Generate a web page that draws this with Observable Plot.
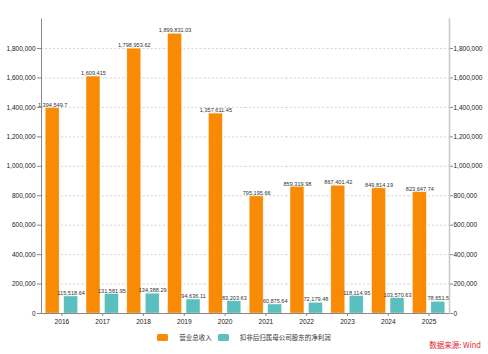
<!DOCTYPE html>
<html><head><meta charset="utf-8">
<script src="https://cdn.jsdelivr.net/npm/d3@7"></script>
<script src="https://cdn.jsdelivr.net/npm/@observablehq/plot@0.6"></script>
<style>
body{margin:0;background:#fff;font-family:"Liberation Sans","Noto Sans CJK SC",sans-serif;}
#wrap{position:relative;width:488px;height:354px;overflow:hidden;}
#chart svg{display:block;}
#legend{position:absolute;left:0;top:332px;width:488px;display:flex;justify-content:center;align-items:center;font-size:6.5px;color:#333;font-family:"Noto Sans CJK SC","Liberation Sans",sans-serif;}
#legend .item{display:flex;align-items:center;margin:0 3px;}
#legend .sw{width:11px;height:7px;border-radius:1.5px;margin-right:11px;}
#source{position:absolute;right:7px;top:339px;font-size:7.5px;color:#e0242b;font-family:"Noto Sans CJK SC","Liberation Sans",sans-serif;}
</style>
</head><body>
<div id="wrap"><div id="chart"></div><div id="legend"></div><div id="source"></div></div>
<script>
const years = ["2016","2017","2018","2019","2020","2021","2022","2023","2024","2025"];
const revenue = [1394549.7, 1609415, 1798953.62, 1899831.03, 1357611.45, 795195.66, 859319.98, 867401.42, 849814.19, 823647.74];
const netProfit = [115518.64, 131581.95, 134388.29, 94636.11, 83203.63, 60875.64, 72179.48, 118114.95, 103570.63, 78651.5];
const seriesNames = ["营业总收入", "扣非后归属母公司股东的净利润"];
const colors = ["#f88a04", "#5cbfbf"];
const yTicks = [0, 200000, 400000, 600000, 800000, 1000000, 1200000, 1400000, 1600000, 1800000];
const sourceText = "数据来源: Wind";

const seriesValues = [revenue, netProfit];
const data = years.flatMap((year, i) => seriesNames.map((s, j) => ({year, series: s, value: seriesValues[j][i]})));
const fmt = d3.format(",");
const font = '"Liberation Sans","Noto Sans CJK SC",sans-serif';

const chart = Plot.plot({
  width: 488, height: 330,
  marginLeft: 41, marginRight: 39, marginTop: 18.6, marginBottom: 17,
  style: {fontFamily: font, fontSize: "6.5px", color: "#333", background: "transparent"},
  fx: {domain: years, padding: 0, round: false, label: null},
  x: {domain: seriesNames, paddingInner: 0.25, paddingOuter: 0.23, round: false, axis: null},
  y: {domain: [0, 2000000], label: null},
  color: {domain: seriesNames, range: colors},
  marks: [
    Plot.gridY(yTicks, {stroke: "#d4d4d4", strokeOpacity: 1, strokeDasharray: "2,2"}),
    Plot.barY(data, {fx: "year", x: "series", y: "value", fill: "series", stroke: "#fff", strokeWidth: 0.6, strokeOpacity: 0.55}),
    Plot.text(data, {fx: "year", x: "series", y: "value", text: d => fmt(d.value), lineAnchor: "bottom", dy: -1.5, fontSize: 5.6, fill: "#333"}),
    Plot.ruleY([0], {stroke: "#888"}),
    Plot.axisY(yTicks, {anchor: "left", tickFormat: fmt, tickSize: 4, tickPadding: 2, label: null, stroke: "#888", fill: "#222"}),
    Plot.axisY(yTicks, {anchor: "right", tickFormat: fmt, tickSize: 3, tickPadding: 1, label: null, stroke: "#888", fill: "#222"}),
    Plot.axisFx({anchor: "bottom", tickSize: 3, tickPadding: 2.5, label: null, stroke: "#888", fill: "#222", fontSize: 6.6}),
    Plot.frame({anchor: "left", facetAnchor: "left", stroke: "#888"}),
    Plot.frame({anchor: "right", facetAnchor: "right", stroke: "#c8c8c8", strokeWidth: 1.5})
  ]
});
document.getElementById("chart").appendChild(chart);

const legend = document.getElementById("legend");
seriesNames.forEach((s, i) => {
  const item = document.createElement("div");
  item.className = "item";
  const sw = document.createElement("span");
  sw.className = "sw";
  sw.style.background = colors[i];
  const t = document.createElement("span");
  t.textContent = s;
  item.appendChild(sw); item.appendChild(t);
  legend.appendChild(item);
});
document.getElementById("source").textContent = sourceText;
</script>
</body></html>
